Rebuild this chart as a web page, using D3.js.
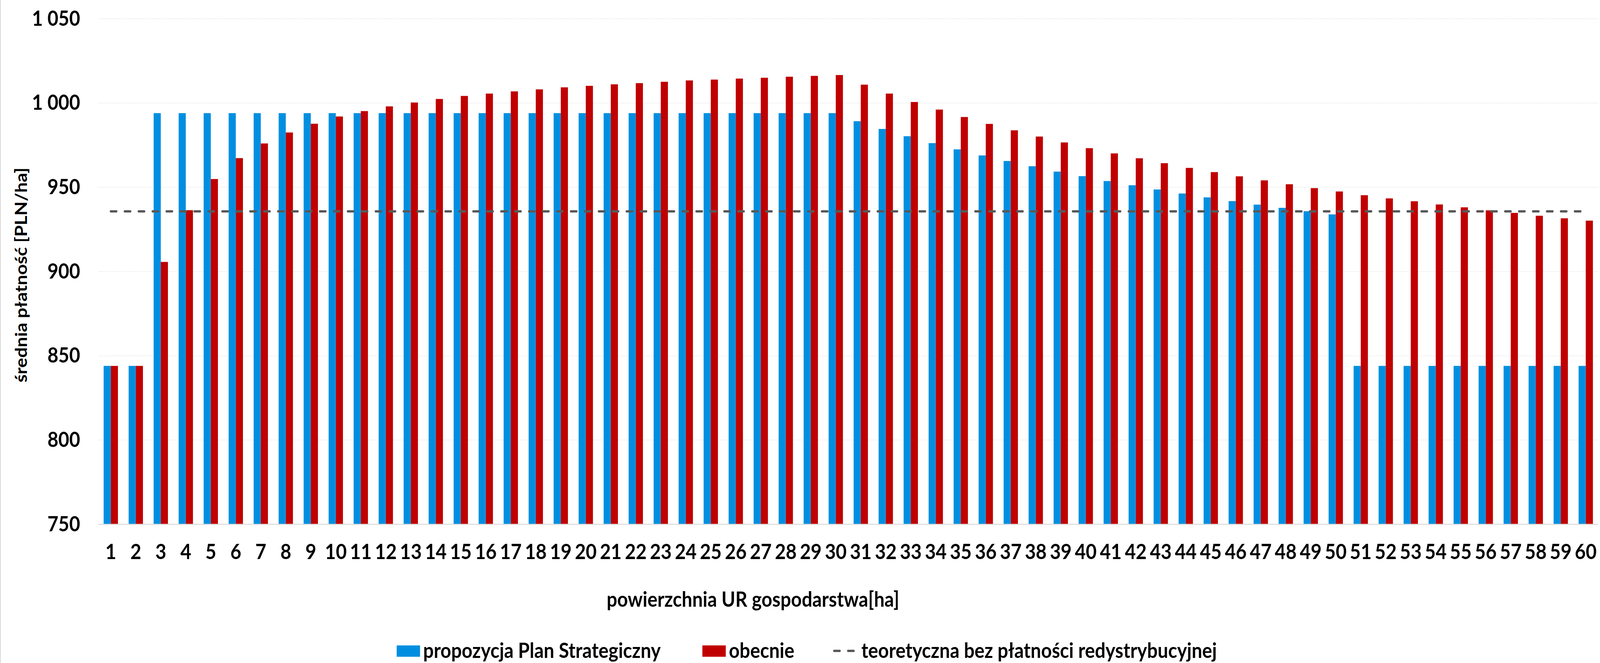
<html>
  <head>
    <title>Średnia płatność</title>
    <script type="text/javascript" src="https://cdn.jsdelivr.net/npm/d3@7"></script>
    <style type="text/css">

html, body {
  margin: 0;
  padding: 0;
  overflow: hidden;
  background: #fff;
}

svg {
  display: block;
  width: 100vw;
  height: 100vh;
  font-family: Lato, "Open Sans", sans-serif;
  font-weight: bold;
}

.grid line {
  stroke: #e2e2e2;
  stroke-width: 2px;
  stroke-dasharray: 2,3;
}

.baseline {
  stroke: #d9d9d9;
  stroke-width: 2.5px;
}

.tick text {
  font-size: 54px;
  fill: #000;
}

.title {
  font-size: 53.5px;
  fill: #000;
}

.title.y {
  font-size: 47.5px;
}

.legend text {
  font-size: 53.5px;
  fill: #000;
}

.dash {
  fill: none;
  stroke: #595959;
  stroke-width: 6px;
  stroke-dasharray: 16,24;
  stroke-linecap: round;
}

    </style>
  </head>
  <body>
    <script type="text/javascript">

var categories = [1, 2, 3, 4, 5, 6, 7, 8, 9, 10, 11, 12, 13, 14, 15, 16, 17, 18, 19, 20,
  21, 22, 23, 24, 25, 26, 27, 28, 29, 30, 31, 32, 33, 34, 35, 36, 37, 38, 39, 40,
  41, 42, 43, 44, 45, 46, 47, 48, 49, 50, 51, 52, 53, 54, 55, 56, 57, 58, 59, 60];

var propozycja = [844, 844, 994, 994, 994, 994, 994, 994, 994, 994,
  994, 994, 994, 994, 994, 994, 994, 994, 994, 994,
  994, 994, 994, 994, 994, 994, 994, 994, 994, 994,
  989.2, 984.6, 980.3, 976.2, 972.5, 968.9, 965.6, 962.5, 959.3, 956.6,
  953.7, 951.2, 948.7, 946.3, 944.0, 941.8, 939.7, 937.8, 935.8, 933.9,
  844, 844, 844, 844, 844, 844, 844, 844, 844, 844];

var obecnie = [844, 844, 905.7, 936.4, 954.9, 967.3, 976.0, 982.5, 987.7, 992.0,
  995.2, 998.0, 1000.3, 1002.4, 1004.2, 1005.6, 1006.9, 1008.1, 1009.3, 1010.2,
  1011.1, 1011.8, 1012.6, 1013.4, 1013.9, 1014.5, 1015.0, 1015.6, 1016.1, 1016.6,
  1010.9, 1005.6, 1000.6, 996.1, 991.7, 987.6, 983.8, 980.1, 976.6, 973.2,
  970.1, 967.2, 964.3, 961.5, 959.0, 956.5, 954.1, 951.8, 949.5, 947.5,
  945.3, 943.4, 941.7, 939.8, 938.1, 936.3, 934.8, 933.1, 931.6, 930.2];

var teoretyczna = 935.7;

var yTicks = [750, 800, 850, 900, 950, 1000, 1050];

var series = ["propozycja Plan Strategiczny", "obecnie"],
    colors = ["#008fe0", "#c00000"],
    lineLabel = "teoretyczna bez płatności redystrybucyjnej";

var W = 4590,
    H = 1697,
    plotL = 282,
    plotR = 4585,
    plotT = 48,
    plotB = 1342;

var pl = d3.formatLocale({decimal: ",", thousands: " ", grouping: [3], currency: ["", ""]});

var x = d3.scaleBand().domain(categories).range([plotL, plotR])
    .paddingInner(0.75 / 1.75).paddingOuter(0.375 / 1.75),
    x1 = d3.scaleBand().domain([0, 1]).range([0, x.bandwidth()]),
    y = d3.scaleLinear().domain([750, 1050]).range([plotB, plotT]);

// drawn in a 4590x1697 box, stretched to whatever the window is
var svg = d3.select("body")
  .append("svg")
    .attr("viewBox", "0 0 " + W + " " + H)
    .attr("preserveAspectRatio", "none");

// chart border (only the left edge is in the picture)
svg.append("line")
    .attr("x1", 1).attr("x2", 1)
    .attr("y1", 0).attr("y2", H)
    .attr("stroke", "#d9d9d9")
    .attr("stroke-width", 2.5);

svg.append("g")
    .attr("class", "grid")
  .selectAll("line")
    .data(yTicks.slice(1))
  .enter().append("line")
    .attr("x1", plotL)
    .attr("x2", plotR)
    .attr("y1", y)
    .attr("y2", y);

var rows = categories.map(function(c, i) {
  return {c: c, v: [propozycja[i], obecnie[i]]};
});

var groups = svg.append("g").selectAll("g")
    .data(rows)
  .enter().append("g")
    .attr("transform", function(d) { return "translate(" + x(d.c) + ",0)"; });

groups.selectAll("rect")
    .data(function(d) { return d.v; })
  .enter().append("rect")
    .attr("x", function(d, i) { return x1(i); })
    .attr("width", x1.bandwidth())
    .attr("y", function(d) { return y(d); })
    .attr("height", function(d) { return plotB - y(d); })
    .attr("fill", function(d, i) { return colors[i]; });

svg.append("line")
    .attr("class", "baseline")
    .attr("x1", plotL)
    .attr("x2", plotR)
    .attr("y1", plotB)
    .attr("y2", plotB);

svg.append("path")
    .attr("class", "dash")
    .attr("d", d3.line()
      .x(function(d) { return x(d) + x.bandwidth() / 2; })
      .y(function() { return y(teoretyczna); })([categories[0], categories[categories.length - 1]]));

var yAxis = svg.append("g")
    .attr("transform", "translate(230,0)")
    .call(d3.axisLeft(y).tickValues(yTicks).tickSize(0).tickPadding(0).tickFormat(pl.format(",d")))
    .attr("font-family", null)
    .attr("font-size", null);
yAxis.select(".domain").remove();

var xAxis = svg.append("g")
    .attr("transform", "translate(0," + plotB + ")")
    .call(d3.axisBottom(x).tickSize(0).tickPadding(51))
    .attr("font-family", null)
    .attr("font-size", null);
xAxis.select(".domain").remove();

svg.append("text")
    .attr("class", "title y")
    .attr("transform", "translate(77,704) rotate(-90)")
    .attr("text-anchor", "middle")
    .text("średnia płatność [PLN/ha]");

svg.append("text")
    .attr("class", "title")
    .attr("x", 2160)
    .attr("y", 1553)
    .attr("text-anchor", "middle")
    .text("powierzchnia UR gospodarstwa[ha]");

var legend = svg.append("g").attr("class", "legend");

var keyX = [1138, 2015];
series.forEach(function(s, i) {
  legend.append("rect")
      .attr("x", keyX[i])
      .attr("y", 1652)
      .attr("width", 67)
      .attr("height", 29)
      .attr("fill", colors[i]);
  legend.append("text")
      .attr("x", keyX[i] + 76)
      .attr("y", 1684)
      .text(s);
});

legend.append("line")
    .attr("class", "dash")
    .attr("x1", 2393)
    .attr("x2", 2450)
    .attr("y1", 1666)
    .attr("y2", 1666);

legend.append("text")
    .attr("x", 2471)
    .attr("y", 1684)
    .text(lineLabel);

    </script>
  </body>
</html>
